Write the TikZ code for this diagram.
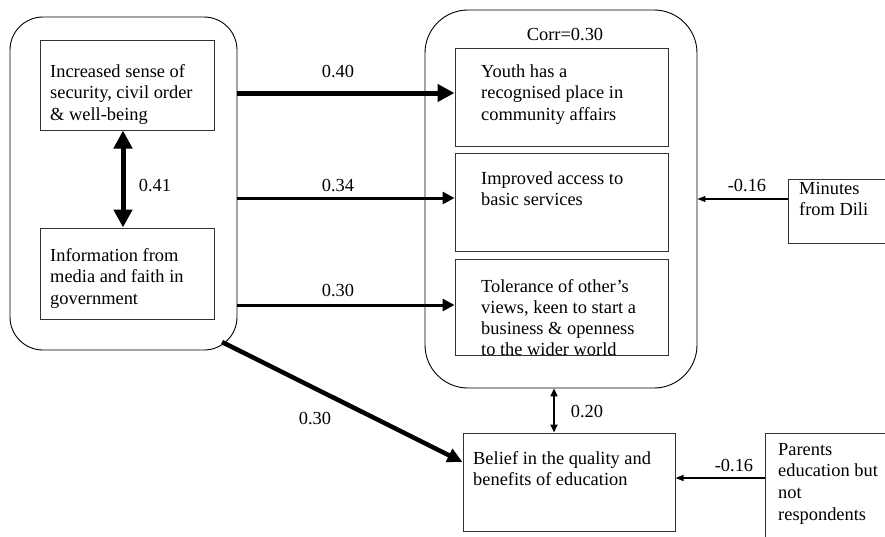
\documentclass[tikz,border=0pt]{standalone}
\usepackage{fontspec}
\setmainfont{Liberation Serif}
\usetikzlibrary{arrows.meta}
\begin{document}
\begin{tikzpicture}[x=1pt,y=-1pt,
  outer/.style={draw, line width=0.9pt, inner sep=0pt},
  inbox/.style={draw=black!80, line width=1pt, inner sep=0pt},
  txt/.style={anchor=base west, inner sep=0pt, font=\fontsize{18.4}{21.8}\selectfont},
  lbl/.style={inner sep=0pt, font=\fontsize{18.4}{22}\selectfont},
  heavy/.style={line width=5pt, -{Triangle[length=17pt,width=17pt]}},
  medium/.style={line width=3pt, -{Triangle[length=12pt,width=12pt]}},
  diag/.style={line width=4.5pt, -{Triangle[length=15pt,width=14pt]}},
  thin/.style={line width=1.2pt, -{Triangle[length=8pt,width=6pt]}},
  thinboth/.style={line width=2pt, {Triangle[length=8pt,width=7pt]}-{Triangle[length=8pt,width=7pt]}},
  heavyboth/.style={line width=5pt, {Triangle[length=18pt,width=18pt]}-{Triangle[length=18pt,width=18pt]}}
]
\useasboundingbox (0,0) rectangle (885,536);
\clip (0,0) rectangle (885,536);
\fill[white] (0,0) rectangle (885,536);

% outer rounded boxes
\node[outer, rounded corners=33pt, minimum width=227pt, minimum height=333pt] (lbox) at (123.5,183.5) {};
\node[outer, rounded corners=43pt, minimum width=272pt, minimum height=378pt] (mbox) at (561,199) {};

% inner boxes
\node[inbox, minimum width=174pt, minimum height=90pt] (inc) at (127,85) {};
\node[inbox, minimum width=174pt, minimum height=91pt] (info) at (127,273.5) {};
\node[inbox, minimum width=213pt, minimum height=98pt] (youth) at (561.5,97) {};
\node[inbox, minimum width=213pt, minimum height=98pt] (impr) at (561.5,202) {};
\node[inbox, minimum width=213pt, minimum height=96pt] (toler) at (561.5,307) {};
\node[inbox, minimum width=132pt, minimum height=64pt] (minutes) at (854,211) {};
\node[inbox, minimum width=212pt, minimum height=98pt] (belief) at (569,482) {};
\node[inbox, minimum width=155pt, minimum height=127pt] (parents) at (842.5,496.5) {};

% texts
\node[txt] (tinc) at (50,77) {\begin{tabular}[t]{@{}l@{}}Increased sense of\\security, civil order\\\& well-being\end{tabular}};
\node[txt] (tinfo) at (50,261) {\begin{tabular}[t]{@{}l@{}}Information from\\media and faith in\\government\end{tabular}};
\node[txt] (tyouth) at (481,77) {\begin{tabular}[t]{@{}l@{}}Youth has a\\recognised place in\\community affairs\end{tabular}};
\node[txt] (timpr) at (481,184) {\begin{tabular}[t]{@{}l@{}}Improved access to\\basic services\end{tabular}};
\node[txt, font=\fontsize{18.4}{21}\selectfont] (ttoler) at (481,292) {\begin{tabular}[t]{@{}l@{}}Tolerance of other’s\\views, keen to start a\\business \& openness\\to the wider world\end{tabular}};
\node[txt] (tmin) at (799,194) {\begin{tabular}[t]{@{}l@{}}Minutes\\from Dili\end{tabular}};
\node[txt] (tbelief) at (473,464) {\begin{tabular}[t]{@{}l@{}}Belief in the quality and\\benefits of education\end{tabular}};
\node[txt] (tpar) at (778,455) {\begin{tabular}[t]{@{}l@{}}Parents\\education but\\not\\respondents\end{tabular}};
\node[lbl] (corr) at (565,35) {Corr=0.30};

% redraw bottom line of tolerance box over its text
\draw[black!80, line width=1pt] (toler.south west) -- (toler.south east);

% helper coordinates
\coordinate (y40) at (0,93);
\coordinate (y34) at (0,198);
\coordinate (y30) at (0,305);
\coordinate (x41) at (123,0);
\coordinate (x20) at (554,0);
\coordinate (ymin) at (0,199);
\coordinate (ypar) at (0,478);
\coordinate (dstart) at (222,342);
\coordinate (dend) at (0,462);

% connectors
\draw[heavy] (lbox.east |- y40) -- (youth.west |- y40);
\draw[medium] (lbox.east |- y34) -- (impr.west |- y34);
\draw[medium] (lbox.east |- y30) -- (toler.west |- y30);
\draw[heavyboth] (inc.south -| x41) -- (info.north -| x41);
\draw[diag] (dstart) -- (belief.west |- dend);
\draw[thinboth] (mbox.south -| x20) -- (belief.north -| x20);
\draw[thin] (minutes.west |- ymin) -- (mbox.east |- ymin);
\draw[thin] (parents.west |- ypar) -- (belief.east |- ypar);

% labels
\node[lbl] (l40) at (338,72) {0.40};
\node[lbl] (l34) at (338,186) {0.34};
\node[lbl] (l30) at (338,291) {0.30};
\node[lbl] (l41) at (155,186) {0.41};
\node[lbl] (l30b) at (315,419) {0.30};
\node[lbl] (l20) at (587,412) {0.20};
\node[lbl] (lmin) at (747,186) {-0.16};
\node[lbl] (lpar) at (734,466) {-0.16};
\end{tikzpicture}
\end{document}
